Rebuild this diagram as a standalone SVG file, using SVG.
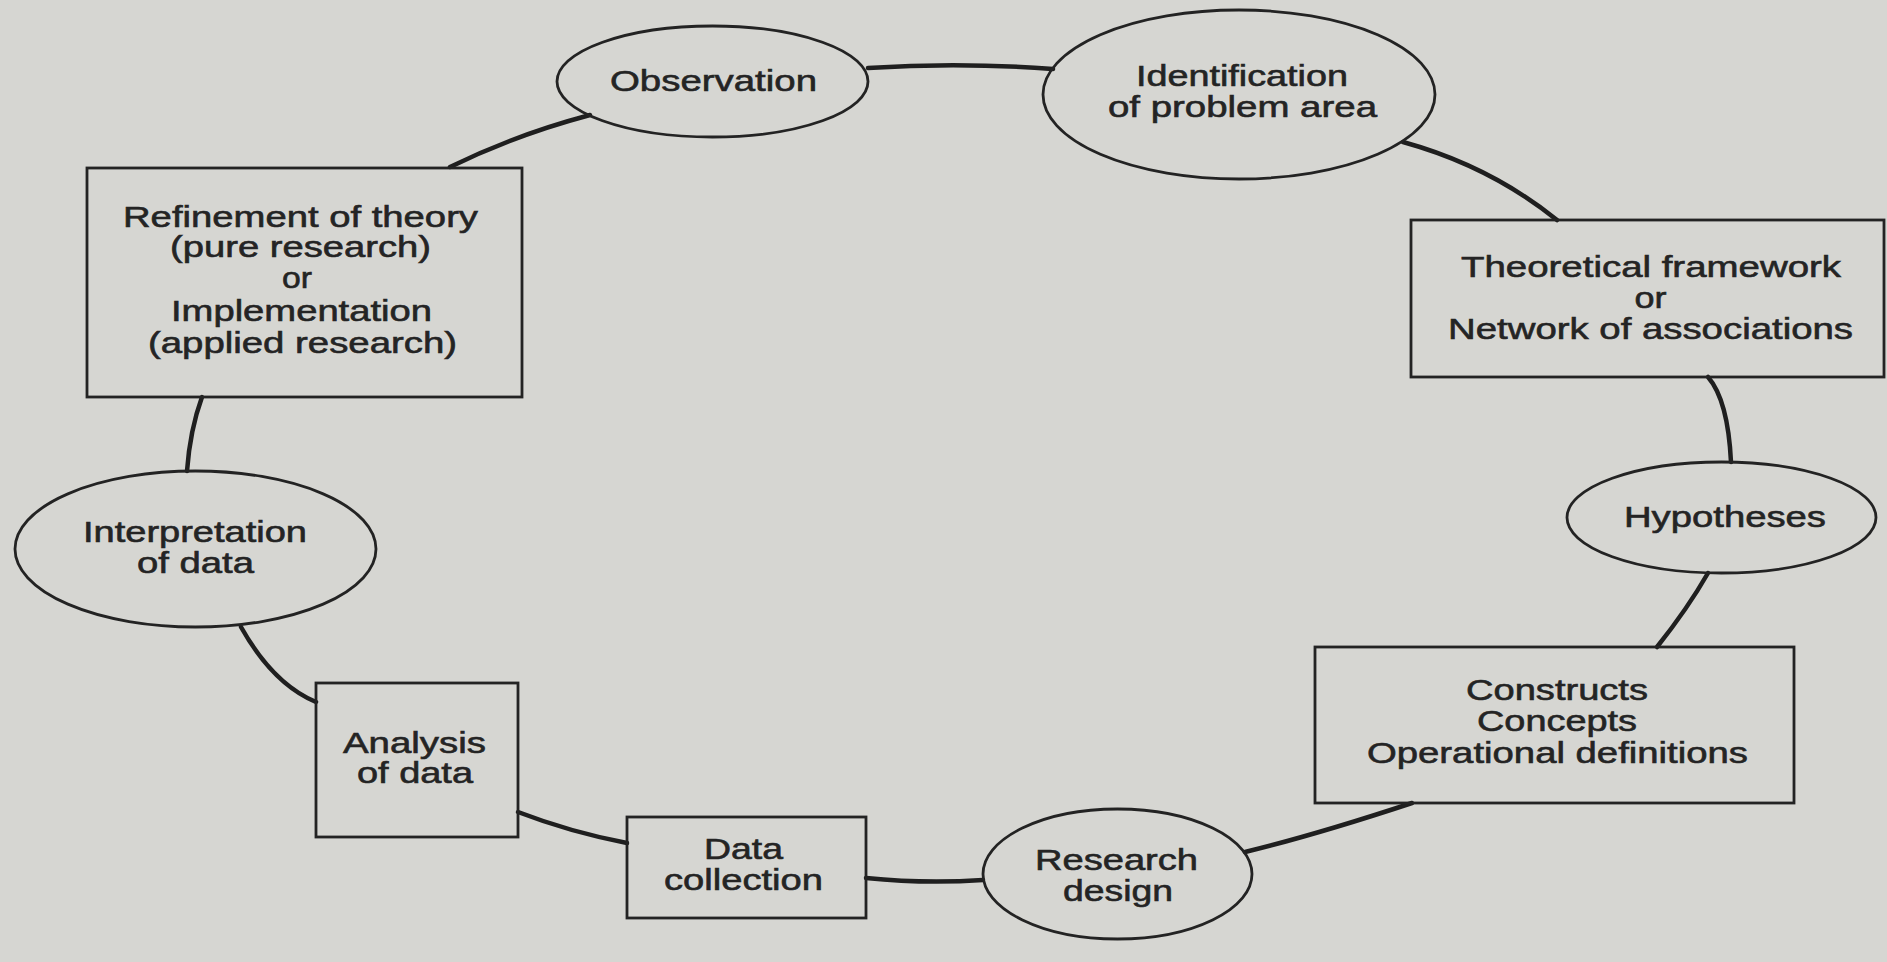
<svg xmlns="http://www.w3.org/2000/svg" width="1887" height="962" viewBox="0 0 1887 962">
<style>
.bg{fill:#d6d6d2}
.shape{fill:none;stroke:#232323;stroke-width:2.8}
.conn{fill:none;stroke:#1f1f1f;stroke-width:4.5;stroke-linecap:round}
text{font-family:"Liberation Sans",Arial,Helvetica,sans-serif;font-size:30px;fill:#242424;stroke:#242424;stroke-width:0.6;text-anchor:middle}
</style>
<rect class="bg" x="0" y="0" width="1887" height="962"/>
<g id="connectors">
<path class="conn" d="M868,68 Q960,62 1053,69"/>
<path class="conn" d="M1403,142 Q1490,166 1557,220"/>
<path class="conn" d="M1708,377 Q1728,400 1731,462"/>
<path class="conn" d="M1708,573 Q1688,608 1657,647"/>
<path class="conn" d="M1412,803 Q1315,835 1245,852"/>
<path class="conn" d="M983,880 Q925,884 866,878"/>
<path class="conn" d="M627,843 Q570,832 518,812"/>
<path class="conn" d="M316,702 Q273,684 241,627"/>
<path class="conn" d="M187,471 Q190,430 202,397"/>
<path class="conn" d="M450,167 Q515,135 590,115"/>
</g>
<g id="observation">
<ellipse class="shape" cx="712.5" cy="81.5" rx="155.5" ry="55.5"/>
<text x="713.5" y="91" textLength="207" lengthAdjust="spacingAndGlyphs">Observation</text>
</g>
<g id="identification">
<ellipse class="shape" cx="1239" cy="94.5" rx="196" ry="84.5"/>
<text x="1242" y="86" textLength="212" lengthAdjust="spacingAndGlyphs">Identification</text>
<text x="1242.5" y="117" textLength="269" lengthAdjust="spacingAndGlyphs">of problem area</text>
</g>
<g id="theoretical">
<rect class="shape" x="1411" y="220" width="473" height="157"/>
<text x="1651" y="277" textLength="380" lengthAdjust="spacingAndGlyphs">Theoretical framework</text>
<text x="1650.5" y="308" textLength="32" lengthAdjust="spacingAndGlyphs">or</text>
<text x="1650.5" y="339" textLength="405" lengthAdjust="spacingAndGlyphs">Network of associations</text>
</g>
<g id="hypotheses">
<ellipse class="shape" cx="1721.5" cy="517.5" rx="154.5" ry="55.5"/>
<text x="1725" y="527" textLength="202" lengthAdjust="spacingAndGlyphs">Hypotheses</text>
</g>
<g id="constructs">
<rect class="shape" x="1315" y="647" width="479" height="156"/>
<text x="1557" y="700" textLength="182" lengthAdjust="spacingAndGlyphs">Constructs</text>
<text x="1557" y="731" textLength="160" lengthAdjust="spacingAndGlyphs">Concepts</text>
<text x="1557.5" y="763" textLength="381" lengthAdjust="spacingAndGlyphs">Operational definitions</text>
</g>
<g id="research-design">
<ellipse class="shape" cx="1117.5" cy="874" rx="134.5" ry="65"/>
<text x="1116.5" y="870" textLength="163" lengthAdjust="spacingAndGlyphs">Research</text>
<text x="1118" y="901" textLength="110" lengthAdjust="spacingAndGlyphs">design</text>
</g>
<g id="data-collection">
<rect class="shape" x="627" y="817" width="239" height="101"/>
<text x="743.5" y="859" textLength="79" lengthAdjust="spacingAndGlyphs">Data</text>
<text x="743.5" y="890" textLength="159" lengthAdjust="spacingAndGlyphs">collection</text>
</g>
<g id="analysis">
<rect class="shape" x="316" y="683" width="202" height="154"/>
<text x="414.5" y="753" textLength="143" lengthAdjust="spacingAndGlyphs">Analysis</text>
<text x="415" y="783" textLength="116" lengthAdjust="spacingAndGlyphs">of data</text>
</g>
<g id="interpretation">
<ellipse class="shape" cx="195.5" cy="549" rx="180.5" ry="78"/>
<text x="195" y="542" textLength="224" lengthAdjust="spacingAndGlyphs">Interpretation</text>
<text x="195.5" y="573" textLength="117" lengthAdjust="spacingAndGlyphs">of data</text>
</g>
<g id="refinement">
<rect class="shape" x="87" y="168" width="435" height="229"/>
<text x="300.5" y="227" textLength="355" lengthAdjust="spacingAndGlyphs">Refinement of theory</text>
<text x="300.5" y="257" textLength="261" lengthAdjust="spacingAndGlyphs">(pure research)</text>
<text x="297" y="288" textLength="30" lengthAdjust="spacingAndGlyphs">or</text>
<text x="301.5" y="321" textLength="261" lengthAdjust="spacingAndGlyphs">Implementation</text>
<text x="302.5" y="353" textLength="309" lengthAdjust="spacingAndGlyphs">(applied research)</text>
</g>
</svg>
